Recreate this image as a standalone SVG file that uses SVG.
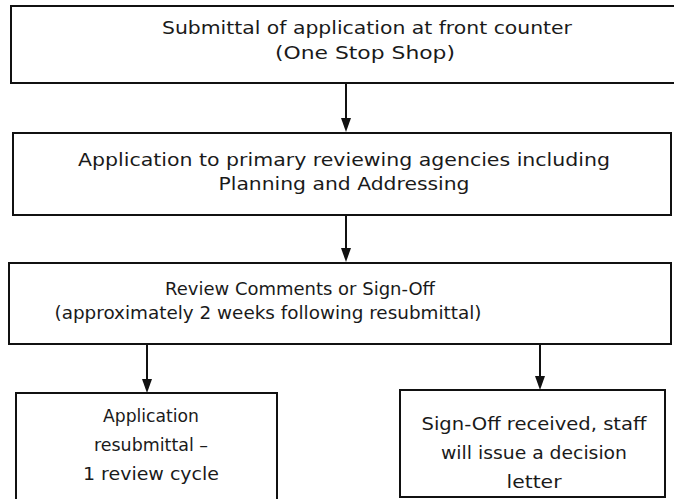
<svg xmlns="http://www.w3.org/2000/svg" width="674" height="499" viewBox="0 0 674 499">
  <style>
    .box { fill: #ffffff; stroke: #111111; stroke-width: 2; }
    .lbl { font-family: "DejaVu Sans", "Liberation Sans", sans-serif; font-size: 17px; fill: #1a1a1a; text-anchor: middle; }
    .conn { stroke: #111111; stroke-width: 2; fill: none; marker-end: url(#arrow); }
  </style>
  <defs>
    <marker id="arrow" viewBox="0 0 14 10" markerWidth="14" markerHeight="10" refX="10" refY="5" orient="auto" markerUnits="userSpaceOnUse">
      <path d="M0,0 L14,5 L0,10 z" fill="#111111"/>
    </marker>
  </defs>
  <rect width="674" height="499" fill="#ffffff"/>

  <g id="node-submittal">
    <rect class="box" x="11" y="6" width="680" height="77"/>
    <text class="lbl" x="367" y="34" textLength="410" lengthAdjust="spacingAndGlyphs">Submittal of application at front counter</text>
    <text class="lbl" x="365" y="59" textLength="180" lengthAdjust="spacingAndGlyphs">(One Stop Shop)</text>
  </g>

  <g id="node-primary-review">
    <rect class="box" x="13" y="133" width="658" height="82"/>
    <text class="lbl" x="344" y="166" textLength="532" lengthAdjust="spacingAndGlyphs">Application to primary reviewing agencies including</text>
    <text class="lbl" x="344" y="190" textLength="251" lengthAdjust="spacingAndGlyphs">Planning and Addressing</text>
  </g>

  <g id="node-review-comments">
    <rect class="box" x="9" y="263" width="662" height="81"/>
    <text class="lbl" x="300" y="295" textLength="270" lengthAdjust="spacingAndGlyphs">Review Comments or Sign-Off</text>
    <text class="lbl" x="268" y="319" textLength="427" lengthAdjust="spacingAndGlyphs">(approximately 2 weeks following resubmittal)</text>
  </g>

  <g id="node-resubmittal">
    <rect class="box" x="16" y="393" width="261" height="130"/>
    <text class="lbl" x="151" y="422" textLength="96" lengthAdjust="spacingAndGlyphs">Application</text>
    <text class="lbl" x="151" y="451" textLength="114" lengthAdjust="spacingAndGlyphs">resubmittal –</text>
    <text class="lbl" x="151" y="480" textLength="136" lengthAdjust="spacingAndGlyphs">1 review cycle</text>
  </g>

  <g id="node-signoff">
    <rect class="box" x="400" y="390" width="265" height="107"/>
    <text class="lbl" x="534" y="430" textLength="225" lengthAdjust="spacingAndGlyphs">Sign-Off received, staff</text>
    <text class="lbl" x="534" y="459" textLength="186" lengthAdjust="spacingAndGlyphs">will issue a decision</text>
    <text class="lbl" x="534" y="488" textLength="55" lengthAdjust="spacingAndGlyphs">letter</text>
  </g>

  <g id="connectors">
    <line class="conn" x1="346" y1="84" x2="346" y2="128"/>
    <line class="conn" x1="346" y1="216" x2="346" y2="258"/>
    <line class="conn" x1="147" y1="345" x2="147" y2="389"/>
    <line class="conn" x1="540" y1="345" x2="540" y2="386"/>
  </g>
</svg>
